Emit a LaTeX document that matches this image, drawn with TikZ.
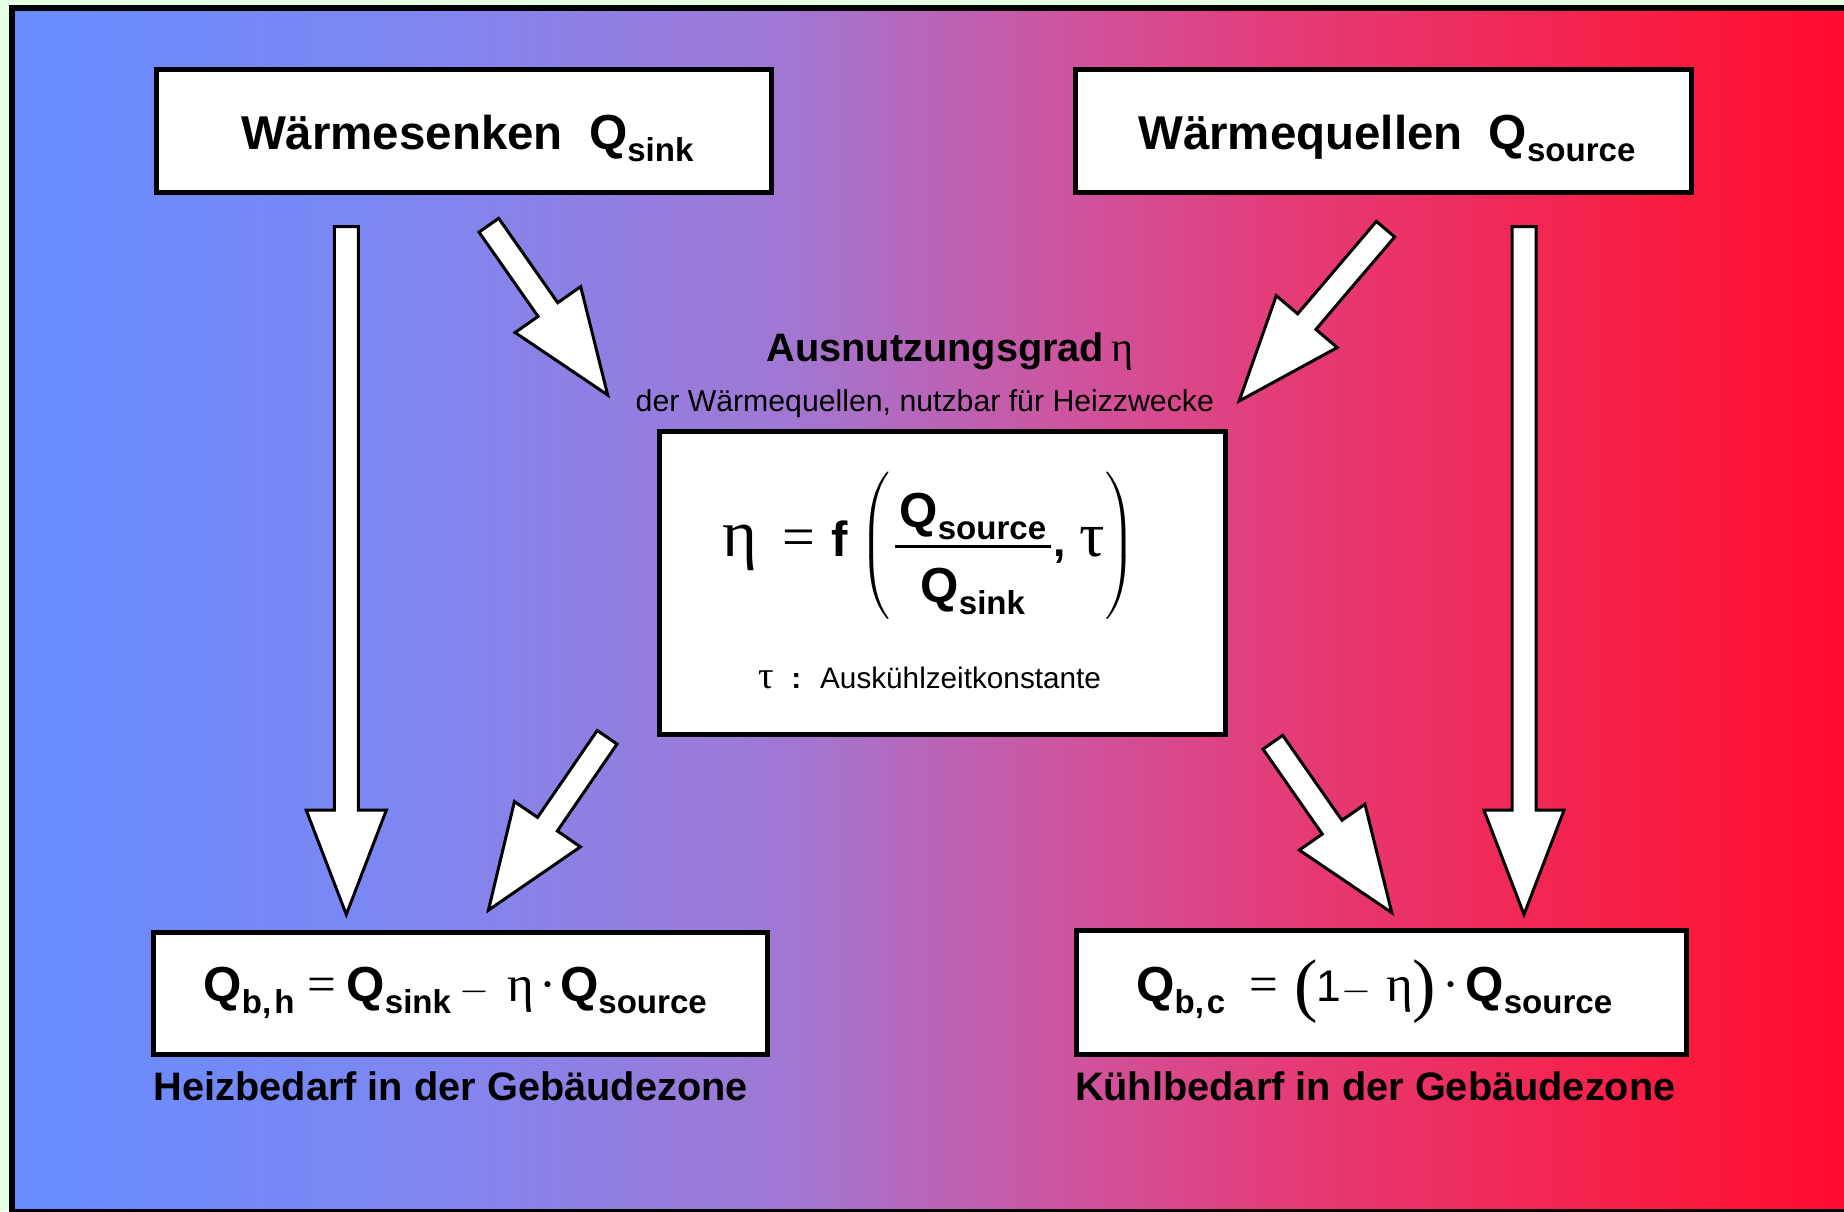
\documentclass[tikz,border=0pt]{standalone}
\usepackage{fontspec}
\setmainfont{Liberation Sans}
\newfontfamily\grkfont{Liberation Serif}
\usetikzlibrary{shapes.arrows, calc}
\definecolor{bgGreen}{RGB}{228,255,228}
\definecolor{bgA}{RGB}{102,140,255}
\definecolor{bgB}{RGB}{125,135,242}
\definecolor{bgC}{RGB}{160,120,212}
\definecolor{bgD}{RGB}{205,85,160}
\definecolor{bgE}{RGB}{228,60,120}
\definecolor{bgF}{RGB}{250,25,60}
\definecolor{bgG}{RGB}{255,10,45}
\pgfdeclarehorizontalshading{zoneshade}{100bp}{color(0bp)=(bgA); color(25bp)=(bgA);
  color(35.5bp)=(bgB); color(45.9bp)=(bgC); color(53.5bp)=(bgD); color(59.5bp)=(bgE);
  color(70.9bp)=(bgF); color(75bp)=(bgG); color(100bp)=(bgG)}

\newcommand{\subtxt}[1]{\raisebox{-0.12cm}{\fontsize{9.4}{10}\selectfont\bfseries #1}}
\newcommand{\Qs}[1]{{\fontsize{14}{16}\selectfont\bfseries Q}\subtxt{#1}}
\newcommand{\gsym}[1]{{\grkfont\mdseries\fontsize{14.5}{16}\selectfont #1}}
\newcommand{\gbig}[2]{{\grkfont\mdseries\fontsize{#1}{#1}\selectfont #2}}
\newcommand{\mminus}{{\fontsize{11}{11}\selectfont$-$}}
\newcommand{\blockarrow}[2]{%
  \path let \p1=($(#2)-(#1)$) in
    node[fatarrow, rotate={atan2(\y1,\x1)}, minimum height={veclen(\x1,\y1)}] at (#1) {};}

\begin{document}
\begin{tikzpicture}[x=0.01cm, y=-0.01cm,
  box/.style={draw, line width=0.05cm, fill=white, inner sep=0pt},
  title/.style={anchor=base west, inner sep=0pt, font=\fontsize{13.5}{16}\selectfont\bfseries},
  note/.style={anchor=base west, inner sep=0pt, font=\fontsize{11.3}{14}\selectfont\bfseries},
  formula/.style={anchor=base west, inner sep=0pt, font=\fontsize{12.6}{15}\selectfont\bfseries},
  small/.style={anchor=base west, inner sep=0pt, font=\fontsize{8.6}{10}\selectfont},
  fatarrow/.style={single arrow, draw, fill=white, line width=0.03cm, inner sep=0pt,
    inner ysep=0.105cm, minimum width=0pt, single arrow head extend=0.28cm,
    single arrow tip angle=42, single arrow head indent=0pt, anchor=tail},
]
  \useasboundingbox (0,0) rectangle (1844,1211);
  \fill[bgGreen] (0,0) rectangle (1844,1211);
  \shadedraw[shading=zoneshade, line width=0.06cm] (12,7.5) rectangle (1852,1212);

  % boxes
  \node[box, minimum width=6.15cm, minimum height=1.225cm] (sink) at (464,131.25) {};
  \node[box, minimum width=6.155cm, minimum height=1.225cm] (source) at (1383.5,131.25) {};
  \node[box, minimum width=5.653cm, minimum height=3.02cm] (eta) at (942.35,583) {};
  \node[box, minimum width=6.143cm, minimum height=1.217cm] (heat) at (460.45,993.35) {};
  \node[box, minimum width=6.09cm, minimum height=1.242cm] (cool) at (1381.5,992.6) {};

  % texts
  \node[title] (sinktxt) at (240.4,149) {Wärmesenken\hspace{0.26cm}\Qs{sink}};
  \node[title] (sourcetxt) at (1137.6,149) {Wärmequellen\hspace{0.26cm}\Qs{source}};
  \node[note] (etatxt) at (765.8,361) {Ausnutzungsgrad\hspace{0.07cm}\gbig{12}{η}};
  \node[small] (etasub) at (635,411.6) {der Wärmequellen, nutzbar für Heizzwecke};
  \node[anchor=west, inner sep=0pt, font=\fontsize{12.6}{15}\selectfont\bfseries] (etaeq) at (724,546)
    {\makebox[0.31cm]{\gbig{19}{η}}\hspace{0.27cm}\makebox[0.32cm]{\gbig{16.5}{=}}\hspace{0.15cm}%
     \makebox[0.2cm]{\fontsize{14}{16}\selectfont f}\hspace{0.1cm}%
     $\left(\vcenter{\hbox{\rule{0pt}{1.45cm}}}%
     {\hbox{\rule[-0.14cm]{0pt}{0.2cm}\makebox[1.56cm]{\Qs{source}}}\above 0.85pt\hbox{\rule{0pt}{0.515cm}\Qs{sink}}}%
     \hbox{\makebox[0.1cm]{,}\hspace{0.14cm}\makebox[0.26cm]{\gbig{18}{τ}}}\right)$};
  \node[small, font=\fontsize{8.45}{10}\selectfont] (tautxt) at (758,688)
    {\gbig{11}{τ}\hspace{0.17cm}\textbf{:}\hspace{0.19cm}Auskühlzeitkonstante};
  \node[formula] (heatq) at (203,1001)
    {\Qs{b,\hspace{0.03cm}h}\hspace{0.15cm}\makebox[0.25cm]{\gsym{=}}\hspace{0.12cm}\Qs{sink}%
     \hspace{0.12cm}\makebox[0.23cm]{\mminus}\hspace{0.23cm}\makebox[0.23cm]{\gsym{η}}%
     \hspace{0.05cm}\makebox[0.22cm]{\gsym{·}}\hspace{0.01cm}\Qs{source}};
  \node[formula] (coolq) at (1135.6,1001)
    {\Qs{b,\hspace{0.03cm}c}\hspace{0.25cm}\makebox[0.26cm]{\gsym{=}}\hspace{0.22cm}%
     \makebox[0.16cm]{\raisebox{-0.07cm}{\gbig{20}{(}}}\hspace{0.08cm}\makebox[0.12cm]{\mdseries 1}%
     \hspace{0.1cm}\makebox[0.245cm]{\mminus}\hspace{0.185cm}\makebox[0.25cm]{\gsym{η}}%
     \hspace{0.06cm}\makebox[0.12cm]{\raisebox{-0.07cm}{\gbig{20}{)}}}\hspace{0.1cm}%
     \makebox[0.2cm]{\gsym{·}}\hspace{0.05cm}\Qs{source}};
  \node[note] (heattxt) at (153,1100) {Heizbedarf in der Gebäudezone};
  \node[note] (cooltxt) at (1074.3,1100) {Kühlbedarf in der Gebäudezone};

  % arrow ends
  \coordinate (sinkA) at (346.3,225);   \coordinate (heatA) at (346.3,913);
  \coordinate (sourceA) at (1524,225);  \coordinate (coolA) at (1524,913);
  \coordinate (sinkB) at (488,224);     \coordinate (etaIn1) at (607,394);
  \coordinate (sourceB) at (1386.5,228);\coordinate (etaIn2) at (1240,400);
  \coordinate (etaOut1) at (608,736);   \coordinate (heatB) at (489.2,909);
  \coordinate (etaOut2) at (1272,741);  \coordinate (coolB) at (1391,911.5);

  % block arrows
  \blockarrow{sinkA}{heatA}
  \blockarrow{sourceA}{coolA}
  \blockarrow{sinkB}{etaIn1}
  \blockarrow{sourceB}{etaIn2}
  \blockarrow{etaOut1}{heatB}
  \blockarrow{etaOut2}{coolB}
\end{tikzpicture}
\end{document}
